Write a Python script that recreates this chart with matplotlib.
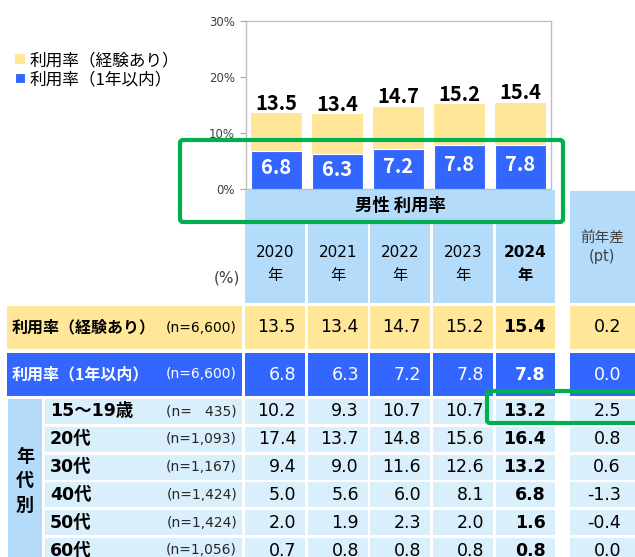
import matplotlib.pyplot as plt
from matplotlib.patches import Rectangle, FancyBboxPatch

plt.rcParams['font.family'] = ['DejaVu Sans', 'Noto Sans CJK JP']

# datos
years = ['2020', '2021', '2022', '2023', '2024']
exp_rate = [13.5, 13.4, 14.7, 15.2, 15.4]
recent_rate = [6.8, 6.3, 7.2, 7.8, 7.8]
exp_diff = 0.2
recent_diff = 0.0
age_labels = ['15〜19歳', '20代', '30代', '40代', '50代', '60代']
age_n = ['(n=   435)', '(n=1,093)', '(n=1,167)', '(n=1,424)', '(n=1,424)', '(n=1,056)']
age_values = [[10.2, 9.3, 10.7, 10.7, 13.2],
              [17.4, 13.7, 14.8, 15.6, 16.4],
              [9.4, 9.0, 11.6, 12.6, 13.2],
              [5.0, 5.6, 6.0, 8.1, 6.8],
              [2.0, 1.9, 2.3, 2.0, 1.6],
              [0.7, 0.8, 0.8, 0.8, 0.8]]
age_diff = [2.5, 0.8, 0.6, -1.3, -0.4, 0.0]

amarillo = '#FFE699'
azul = '#3366FF'
celeste = '#B4DCFA'
celeste2 = '#DAEFFC'
verde = '#00B050'
cjk = 'Noto Sans CJK JP'

W, H = 635, 557
fig = plt.figure(figsize=(W / 100, H / 100), dpi=100)

# grafico de barras
ax = fig.add_axes([246 / W, 1 - 189 / H, 305 / W, 168 / H])
x = range(len(years))
b1 = ax.bar(x, exp_rate, width=0.82, color=amarillo, zorder=2)
b2 = ax.bar(x, recent_rate, width=0.82, color=azul, edgecolor='white', linewidth=0.8, zorder=3)
for i in x:
    ax.text(i, exp_rate[i] + 0.6, f'{exp_rate[i]:.1f}', ha='center', va='baseline',
            fontsize=14.5, fontweight='bold', family=cjk)
    ax.text(i, recent_rate[i] / 2 + 0.4, f'{recent_rate[i]:.1f}', ha='center', va='center',
            fontsize=14.5, fontweight='bold', family=cjk, color='white', zorder=4)
ax.set_xlim(-0.5, 4.5)
ax.set_ylim(0, 30)
ax.set_yticks([0, 10, 20, 30])
ax.set_yticklabels(['0%', '10%', '20%', '30%'], fontsize=8.5, color='#404040')
ax.set_xticks([0.5, 1.5, 2.5, 3.5])
ax.set_xticklabels([])
ax.tick_params(axis='both', length=4, color='#a6a6a6', width=0.8)
ax.tick_params(axis='y', pad=4)
for s in ax.spines.values():
    s.set_color('#bfbfbf')
    s.set_linewidth(1)

fig.legend([b1, b2], ['利用率（経験あり）', '利用率（1年以内）'], loc='upper left',
           bbox_to_anchor=(0, 1 - 37 / H), frameon=False,
           handlelength=0.6, handleheight=0.6, handletextpad=0.3, labelspacing=0.12,
           prop={'family': cjk, 'size': 12})

# tabla
tb = fig.add_axes([0, 0, 1, 1])
tb.set_xlim(0, W)
tb.set_ylim(H, 0)
tb.axis('off')


def celda(x0, x1, y0, y1, color):
    tb.add_patch(Rectangle((x0, y0), x1 - x0, y1 - y0, facecolor=color, edgecolor='none'))


col_x0 = [245, 308, 370, 433, 496]
col_x1 = [305, 368, 430, 493, 555]
dif_x0, dif_x1 = 570, 640

celda(245, 555, 190, 221, celeste)
tb.text(400, 206, '男性 利用率', ha='center', va='center', fontsize=12.5, fontweight='bold', family=cjk)
for j in range(5):
    celda(col_x0[j], col_x1[j], 223, 303, celeste)
    peso = 'bold' if j == 4 else 'normal'
    tb.text((col_x0[j] + col_x1[j]) / 2, 264, years[j] + '\n年', ha='center', va='center',
            fontsize=11, fontweight=peso, linespacing=1.65)
celda(dif_x0, dif_x1, 191, 303, celeste)
tb.text(602, 247, '前年差\n(pt)', ha='center', va='center', fontsize=10.5, color='#404040', linespacing=1.3)
tb.text(240, 278, '(%)', ha='right', va='center', fontsize=11, color='#404040')

# filas de total
filas = [('利用率（経験あり）', exp_rate, exp_diff, 306, 349, amarillo, 'black'),
         ('利用率（1年以内）', recent_rate, recent_diff, 353, 396, azul, 'white')]
for nombre, vals, dif, y0, y1, fondo, tc in filas:
    yc = (y0 + y1) / 2
    celda(7, 242, y0, y1, fondo)
    tb.text(12, yc, nombre, ha='left', va='center', fontsize=11.5, fontweight='bold', color=tc, family=cjk)
    tb.text(237, yc, '(n=6,600)', ha='right', va='center', fontsize=10, color=tc)
    for j in range(5):
        celda(col_x0[j], col_x1[j], y0, y1, fondo)
        peso = 'bold' if j == 4 else 'normal'
        tb.text(col_x1[j] - 9, yc, f'{vals[j]:.1f}', ha='right', va='center', fontsize=12.5,
                fontweight=peso, color=tc)
    celda(dif_x0, dif_x1, y0, y1, fondo)
    tb.text(621, yc, f'{dif:.1f}', ha='right', va='center', fontsize=12.5, color=tc)

# filas por edad
celda(8, 42, 399, 560, celeste)
tb.text(25, 481, '年\n代\n別', ha='center', va='center', fontsize=13, fontweight='bold',
        family=cjk, linespacing=1.35)
y_top = 399
for k in range(len(age_labels)):
    y0 = y_top + k * 27.8
    y1 = y0 + 25
    yc = (y0 + y1) / 2
    celda(45, 242, y0, y1, celeste2)
    tb.text(50, yc, age_labels[k], ha='left', va='center', fontsize=12.5, fontweight='bold')
    tb.text(237, yc, age_n[k], ha='right', va='center', fontsize=10, color='#262626')
    for j in range(5):
        celda(col_x0[j], col_x1[j], y0, y1, celeste2)
        peso = 'bold' if j == 4 else 'normal'
        tb.text(col_x1[j] - 9, yc, f'{age_values[k][j]:.1f}', ha='right', va='center',
                fontsize=12.5, fontweight=peso)
    celda(dif_x0, dif_x1, y0, y1, celeste2)
    tb.text(621, yc, f'{age_diff[k]:.1f}', ha='right', va='center', fontsize=12.5)

# recuadros verdes
tb.add_patch(FancyBboxPatch((180, 140), 383, 82, boxstyle='round,pad=0,rounding_size=3',
                            facecolor='none', edgecolor=verde, linewidth=3, zorder=10))
tb.add_patch(FancyBboxPatch((487, 391), 160, 32, boxstyle='round,pad=0,rounding_size=3',
                            facecolor='none', edgecolor=verde, linewidth=3, zorder=10))

fig.savefig('out.png', dpi=100)
